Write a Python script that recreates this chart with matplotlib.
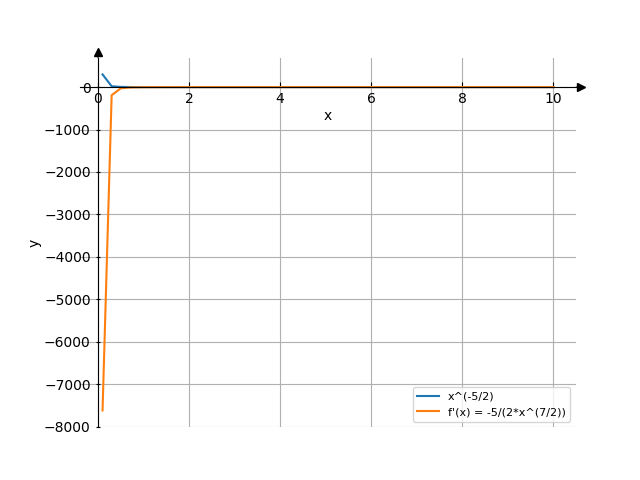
import matplotlib
matplotlib.use('Agg')
import matplotlib.pyplot as plt
from matplotlib.transforms import offset_copy

# values
x_vals = [0.1, 0.3, 0.5, 0.7, 1.0, 1.5, 2.0, 4.0, 6.0, 8.0, 10.0]
f_vals = [300, 20, 5.7, 2.4, 1.0, 0.4, 0.2, 0.03, 0.01, 0.0, 0.0]
df_vals = [-7620, -190, -28, -8.5, -2.5, -0.6, -0.2, -0.02, -0.0, -0.0, -0.0]
labels = ['x^(-5/2)', "f'(x) = -5/(2*x^(7/2))"]

fig, ax = plt.subplots(figsize=(6.4, 4.8), dpi=100)
ax.plot(x_vals, f_vals, label=labels[0])
ax.plot(x_vals, df_vals, label=labels[1])
xlim = ax.get_xlim()
ylim = ax.get_ylim()

# sympy-like centred axes with arrow heads
ax.spines['left'].set_position('zero')
ax.spines['bottom'].set_position('zero')
ax.spines['right'].set_visible(False)
ax.spines['top'].set_visible(False)
tr_x = offset_copy(ax.get_yaxis_transform(), fig=fig, x=5, units='dots')
tr_y = offset_copy(ax.get_xaxis_transform(), fig=fig, y=6, units='dots')
# short pieces of spine leading up to the arrows
ax.annotate('', xy=(1, 0), xycoords=tr_x, xytext=(1, 0),
            textcoords=ax.get_yaxis_transform(),
            arrowprops=dict(arrowstyle='-', lw=0.8, color='k',
                            shrinkA=0, shrinkB=0))
ax.annotate('', xy=(0, 1), xycoords=tr_y, xytext=(0, 1),
            textcoords=ax.get_xaxis_transform(),
            arrowprops=dict(arrowstyle='-', lw=0.8, color='k',
                            shrinkA=0, shrinkB=0))
ax.plot(1, 0, '>k', transform=tr_x, clip_on=False)
ax.plot(0, 1, '^k', transform=tr_y, clip_on=False)
ax.set_xlim(xlim)
ax.set_ylim(ylim)
ax.tick_params(axis='x', direction='in')
ax.tick_params(axis='y', direction='inout')

ax.set_xlabel('x', labelpad=2)
ax.set_ylabel('y', labelpad=2)
ax.grid(True)
ax.legend(fontsize=8, loc='lower right')

fig.savefig('out.png')
